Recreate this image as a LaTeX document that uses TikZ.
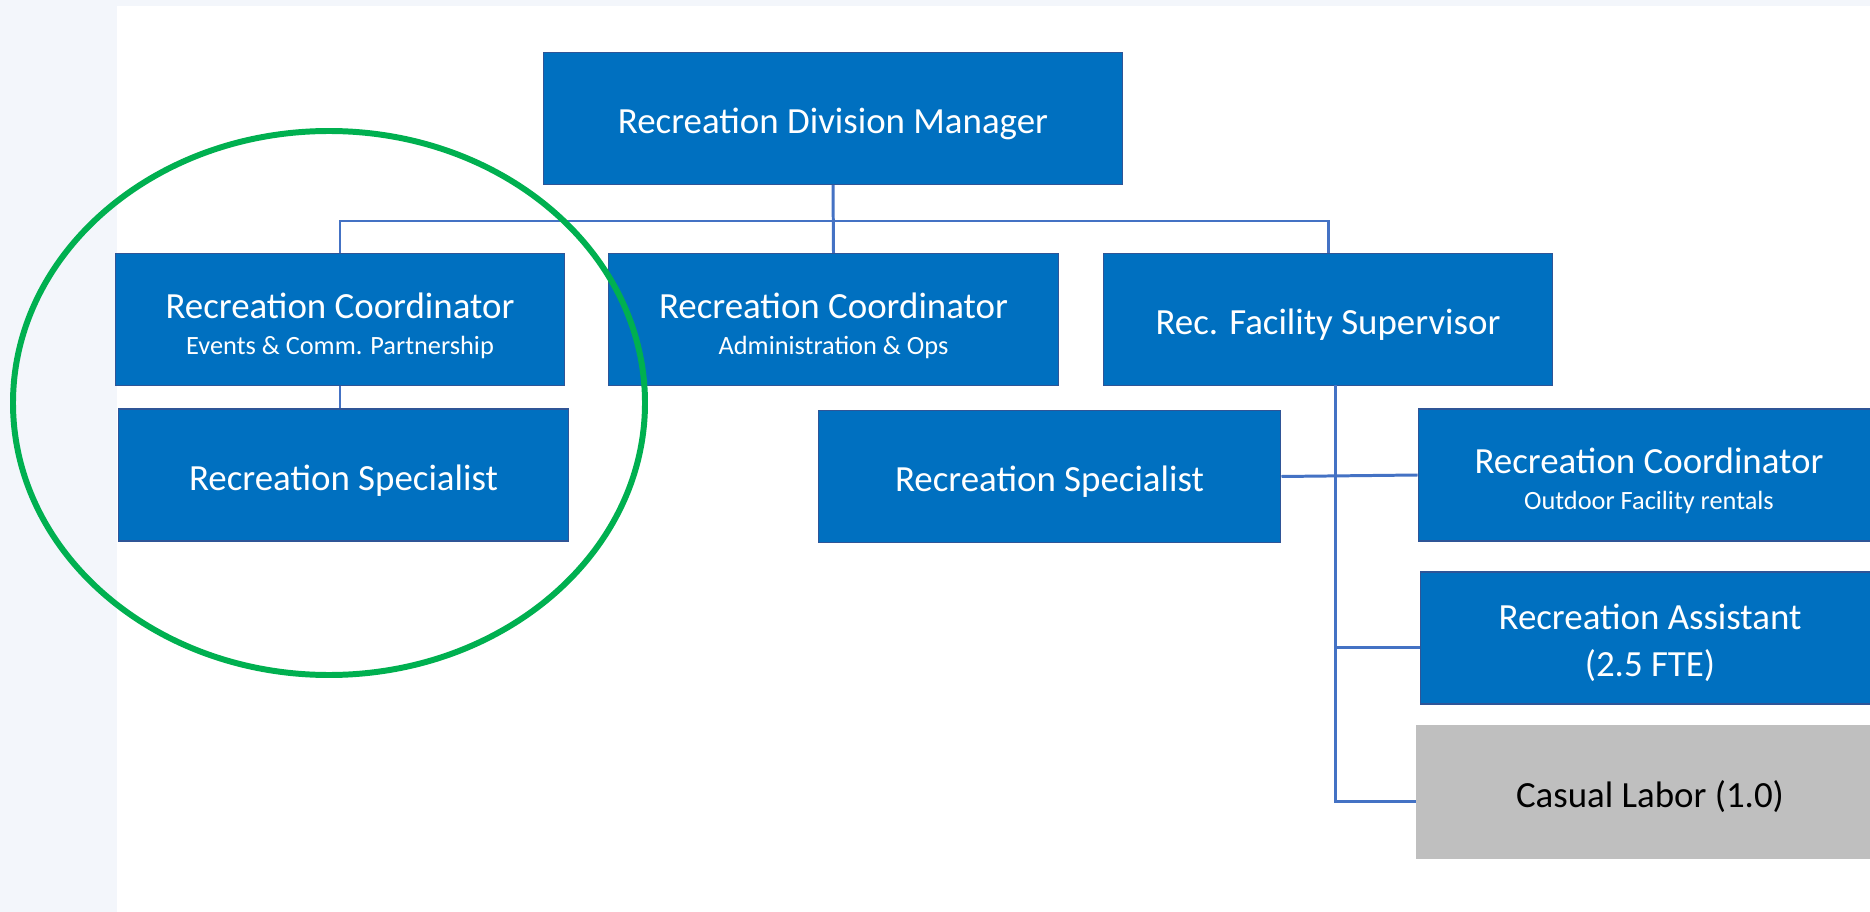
\documentclass[tikz,border=0pt]{standalone}
\usepackage{fontspec}
\setmainfont{Carlito}
\usepackage{tikz}
\usetikzlibrary{positioning}
\definecolor{boxblue}{HTML}{0070C0}
\definecolor{boxline}{HTML}{2F5597}
\definecolor{linkblue}{HTML}{4472C4}
\definecolor{laborgray}{HTML}{BFBFBF}
\definecolor{ringgreen}{HTML}{00B050}
\definecolor{panel}{HTML}{F3F6FB}
\newcommand{\subline}[1]{\\[-5.9pt]{\fontsize{15}{18}\selectfont #1}}

\begin{document}
\begin{tikzpicture}[x=0.02cm, y=-0.02cm, every node/.style = {shape = rectangle, fill = boxblue, draw = boxline, line width = 0.6pt, minimum width = 9cm, minimum height = 2.64cm, inner sep = 0pt, align = center, text = white, font = \fontsize{21}{26.5}\selectfont, execute at begin node = {\rule{0pt}{20.5pt}}}, lift text/.style = {execute at begin node = {\rule{0pt}{#1}}}, blue edge/.style = {-, line width = 1.7pt, linkblue}, labor/.style = {fill = laborgray, draw = laborgray, text = black}]
\useasboundingbox (0,0) rectangle (1870,912);
\fill[panel] (0,0) rectangle (1870,912);
\fill[white] (117,6) rectangle (1870,912);
\node[minimum width = 11.6cm](0;0) at (833,118.5) {Recreation Division Manager};
  \node[lift text = 42pt](1;1) at (340,319.5) {Recreation Coordinator\subline{Events \& Comm. Partnership}};
  \node[lift text = 42pt](1;2) at (833.5,319.5) {Recreation Coordinator\subline{Administration \& Ops}};
  \node(1;3) at (1328,319.5) {Rec. Facility Supervisor};
    \node(2;1) at (343.5,475) {Recreation Specialist};
    \node[minimum width = 9.26cm](2;2) at (1049.5,476.5) {Recreation Specialist};
    \node[lift text = 42pt, minimum width = 9.24cm](2;3) at (1649,475) {Recreation Coordinator\subline{Outdoor Facility rentals}};
    \node[lift text = 46.5pt, minimum width = 9.2cm](2;4) at (1650,638) {Recreation Assistant\\(2.5 FTE)};
    \node[labor, minimum width = 9.36cm](2;5) at (1650,792) {Casual Labor (1.0)};
\coordinate (bus) at (833,221);
\coordinate (trunk) at (1335,385);
\draw[blue edge] (0;0.south) -- (1;2.north);
\draw[blue edge] (1;1.north) |- (bus) -| (1;3.north);
\draw[blue edge] (1;1.south) -- (1;1.south |- 2;1.north);
\draw[blue edge] (2;2.east) -- (2;3.west);
\foreach \j in {4,5}
  { \draw[blue edge] (trunk) |- ([yshift=-0.19cm]2;\j.west); }
\draw[ringgreen, line width = 3.4pt] (329,403) ellipse [x radius = 316, y radius = 272];
\end{tikzpicture}
\end{document}
